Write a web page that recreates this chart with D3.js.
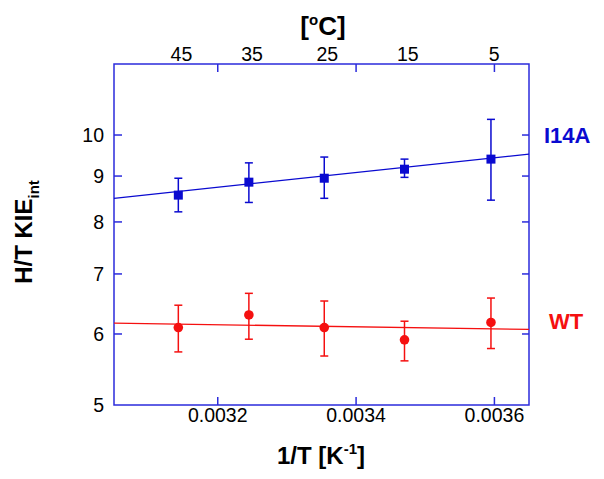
<!DOCTYPE html>
<html><head><meta charset="utf-8">
<script src="https://cdn.jsdelivr.net/npm/d3@7/dist/d3.min.js"></script>
<style>body{margin:0;background:#fff} svg{display:block} text{font-family:"Liberation Sans",Arial,sans-serif}</style>
</head><body><svg id="c" width="604" height="479"></svg>
<script>
// ---- data ----
const invT      = [0.003143, 0.003245, 0.003354, 0.003470, 0.003595];
const i14aVal   = [8.57, 8.86, 8.95, 9.16, 9.40];
const i14aLow   = [8.21, 8.41, 8.50, 8.97, 8.46];
const i14aHigh  = [8.95, 9.31, 9.45, 9.40, 10.41];
const wtVal     = [6.10, 6.30, 6.10, 5.91, 6.18];
const wtLow     = [5.73, 5.92, 5.67, 5.60, 5.78];
const wtHigh    = [6.46, 6.66, 6.53, 6.20, 6.58];
const fitX      = [0.00305, 0.00365];
const i14aFit   = [8.50, 9.52];
const wtFit     = [6.17, 6.07];
const xTicks    = [0.0032, 0.0034, 0.0036];
const yTicks    = [5, 6, 7, 8, 9, 10];
const celsius   = [45, 35, 25, 15, 5];

const BLUE = "#0a0ad0", AXIS = "#2b2bdc", RED = "#f51010";
const svg = d3.select("#c");
const L = 114, R = 529, T = 64, B = 405;
const x = d3.scaleLinear().domain([0.00305, 0.00365]).range([L, R]);
const y = d3.scaleLog().domain([5, 12]).range([B, T]);

// frame
svg.append("rect").attr("x", L).attr("y", T).attr("width", R - L).attr("height", B - T)
  .attr("fill", "none").attr("stroke", AXIS).attr("stroke-width", 1.5);

// bottom axis ticks + labels
xTicks.forEach(v => {
  svg.append("line").attr("x1", x(v)).attr("x2", x(v)).attr("y1", B).attr("y2", B - 8).attr("stroke", AXIS).attr("stroke-width", 1.5);
  svg.append("line").attr("x1", x(v)).attr("x2", x(v)).attr("y1", T).attr("y2", T + 8).attr("stroke", AXIS).attr("stroke-width", 1.5);
  svg.append("text").attr("x", x(v)).attr("y", 422).attr("text-anchor", "middle").attr("font-size", 19.5).text(d3.format(".4f")(v));
});
// top axis labels (°C)
celsius.forEach(c => {
  svg.append("text").attr("x", x(1 / (c + 273.15)) + 3).attr("y", 61).attr("text-anchor", "middle").attr("font-size", 19.5).text(c);
});
// left/right y ticks
yTicks.forEach(v => {
  if (v > 5) {
    svg.append("line").attr("x1", L).attr("x2", L + 8).attr("y1", y(v)).attr("y2", y(v)).attr("stroke", AXIS).attr("stroke-width", 1.5);
    svg.append("line").attr("x1", R).attr("x2", R - 7).attr("y1", y(v)).attr("y2", y(v)).attr("stroke", AXIS).attr("stroke-width", 1.5);
  }
  svg.append("text").attr("x", 104).attr("y", y(v)).attr("dy", "0.35em").attr("text-anchor", "end").attr("font-size", 19.5).text(v);
});

// titles
svg.append("text").attr("x", 323).attr("y", 35).attr("text-anchor", "middle").attr("font-size", 26).attr("font-weight", "bold")
  .html('[<tspan font-size="15" dy="-10">o</tspan><tspan dy="10">C]</tspan>');
svg.append("text").attr("x", 321).attr("y", 464).attr("text-anchor", "middle").attr("font-size", 24).attr("font-weight", "bold")
  .html('1/T [K<tspan font-size="15" dy="-10">-1</tspan><tspan dy="10">]</tspan>');
svg.append("text").attr("transform", "translate(32,232) rotate(-90)").attr("text-anchor", "middle").attr("font-size", 24).attr("font-weight", "bold")
  .html('H/T KIE<tspan font-size="15" dy="7">int</tspan>');

// series
function series(vals, lo, hi, fit, color, shape) {
  const line = d3.line().x((d, i) => x(fitX[i])).y(d => y(d));
  svg.append("path").attr("d", line(fit)).attr("fill", "none").attr("stroke", color).attr("stroke-width", 1.3);
  const g = svg.append("g");
  vals.forEach((v, i) => {
    const cx = x(invT[i]);
    g.append("line").attr("x1", cx).attr("x2", cx).attr("y1", y(lo[i])).attr("y2", y(hi[i])).attr("stroke", color).attr("stroke-width", 1.5);
    [lo[i], hi[i]].forEach(e => g.append("line").attr("x1", cx - 4).attr("x2", cx + 4).attr("y1", y(e)).attr("y2", y(e)).attr("stroke", color).attr("stroke-width", 1.5));
    if (shape === "square") g.append("rect").attr("x", cx - 4.5).attr("y", y(v) - 4.5).attr("width", 9).attr("height", 9).attr("fill", color);
    else g.append("circle").attr("cx", cx).attr("cy", y(v)).attr("r", 4.8).attr("fill", color);
  });
}
series(i14aVal, i14aLow, i14aHigh, i14aFit, BLUE, "square");
series(wtVal, wtLow, wtHigh, wtFit, RED, "circle");

svg.append("text").attr("x", 544).attr("y", 143).attr("font-size", 22).attr("font-weight", "bold").attr("fill", BLUE).text("I14A");
svg.append("text").attr("x", 549).attr("y", 329).attr("font-size", 22).attr("font-weight", "bold").attr("fill", RED).text("WT");
</script></body></html>
